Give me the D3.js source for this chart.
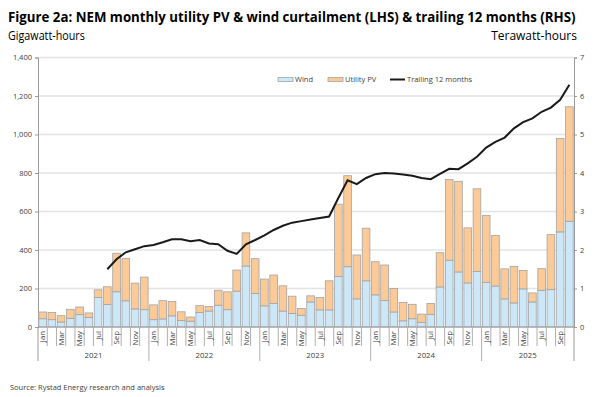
<!DOCTYPE html>
<html>

<head>
    <script src="https://cdnjs.cloudflare.com/ajax/libs/d3/7.8.5/d3.min.js"></script>
    <style>
        body {
            margin: 0;
            background: #fff;
        }

        text {
            font-family: 'Open Sans', 'Noto Sans', sans-serif;
            fill: #404040;
        }

        .title {
            font-weight: bold;
            fill: #000;
        }
    </style>
</head>

<body>
    <script>
        // months Jan 2021 .. Oct 2025
        const years = ['2021', '2022', '2023', '2024', '2025']
        const monthNames = ['Jan', 'Feb', 'Mar', 'Apr', 'May', 'Jun', 'Jul', 'Aug', 'Sep', 'Oct', 'Nov', 'Dec']
        const leftTicks = [0, 200, 400, 600, 800, 1000, 1200, 1400]
        const rightTicks = [0, 1, 2, 3, 4, 5, 6, 7]

        // GWh
        const wind = [
            43, 38, 26, 45, 64, 50, 153, 117, 183, 136, 94, 90,
            38, 42, 58, 33, 30, 75, 83, 113, 90, 186, 317, 174,
            110, 122, 83, 70, 61, 130, 89, 89, 263, 313, 146, 240,
            167, 137, 78, 32, 43, 24, 66, 208, 347, 286, 229, 289,
            231, 213, 146, 125, 198, 130, 191, 194, 494, 549
        ]
        const utilityPV = [
            35, 37, 33, 47, 40, 23, 40, 92, 200, 221, 134, 169,
            77, 95, 74, 46, 22, 36, 23, 78, 93, 110, 172, 181,
            139, 148, 131, 90, 35, 32, 64, 151, 375, 473, 228, 273,
            172, 185, 122, 95, 75, 43, 56, 178, 419, 471, 286, 429,
            348, 262, 156, 190, 95, 47, 112, 286, 485, 595
        ]
        // TWh
        const trailing = [
            null, null, null, null, null, null, null, 1.50, 1.76, 1.94, 2.02, 2.10,
            2.13, 2.20, 2.28, 2.28, 2.23, 2.26, 2.17, 2.15, 1.98, 1.90, 2.15, 2.26,
            2.38, 2.52, 2.63, 2.71, 2.75, 2.79, 2.83, 2.87, 3.35, 3.81, 3.71, 3.87,
            3.97, 4.00, 3.99, 3.96, 3.93, 3.87, 3.84, 3.98, 4.11, 4.10, 4.25, 4.42,
            4.66, 4.81, 4.92, 5.16, 5.32, 5.42, 5.59, 5.70, 5.90, 6.29
        ]

        const w = 600;
        const h = 397;

        let data = wind.map((d, i) => ({
            key: years[Math.floor(i / 12)] + '-' + i,
            month: monthNames[i % 12],
            year: years[Math.floor(i / 12)],
            wind: d,
            pv: utilityPV[i],
            t12: trailing[i]
        }))

        const svg = d3.select("body")
            .append("svg")
            .attr("width", w)
            .attr("height", h);

        const pLeft = 38, pRight = 574, pTop = 57.5, pBottom = 327

        const x = d3.scaleBand()
            .domain(data.map(d => d.key))
            .range([pLeft, pRight])
            .paddingInner(0.17)
            .paddingOuter(0.085)
        const step = x.step()
        const gap = (step - x.bandwidth()) / 2

        const y = d3.scaleLinear().domain([0, 1400]).range([pBottom, pTop])
        const y2 = d3.scaleLinear().domain([0, 7]).range([pBottom, pTop])

        // squeeze a text horizontally to a given width (Calibri-like narrow look)
        function fitWidth(sel, x0, y0, width) {
            let natural = sel.node().getComputedTextLength()
            let sx = Math.min(1, width / natural)
            sel.attr("transform", `translate(${x0},${y0}) scale(${sx},1)`)
        }

        // titles
        let title = svg.append("text").attr("class", "title")
            .style("font-size", "14.5px")
            .text("Figure 2a: NEM monthly utility PV & wind curtailment (LHS) & trailing 12 months (RHS)")
        fitWidth(title, 8, 22, 568)
        let gwh = svg.append("text")
            .style("font-size", "12px").style("fill", "#000")
            .text("Gigawatt-hours")
        fitWidth(gwh, 8, 40, 77)
        svg.append("text").attr("x", 577).attr("y", 40)
            .attr("text-anchor", "end")
            .style("font-size", "12px").style("fill", "#000")
            .text("Terawatt-hours")

        // gridlines
        svg.append("g").selectAll("line")
            .data(leftTicks.slice(1))
            .enter().append("line")
            .attr("x1", pLeft).attr("x2", pRight)
            .attr("y1", d => y(d)).attr("y2", d => y(d))
            .attr("stroke", "#e3e3e3").attr("stroke-width", 1.3)

        // left axis
        const gl = svg.append("g").attr("transform", `translate(${pLeft},0)`)
            .call(d3.axisLeft(y).tickValues(leftTicks).tickSize(3).tickPadding(3).tickFormat(d3.format(",")))
        gl.select(".domain").attr("stroke", "#9a9a9a")
        gl.selectAll(".tick line").attr("stroke", "#9a9a9a")
        gl.selectAll("text").style("font-size", "7.5px").style("fill", "#404040").style("font-family", "'Open Sans', sans-serif")

        // right axis
        const gr = svg.append("g").attr("transform", `translate(${pRight},0)`)
            .call(d3.axisRight(y2).tickValues(rightTicks).tickSize(3).tickPadding(3).tickFormat(d3.format("d")))
        gr.select(".domain").attr("stroke", "#9a9a9a")
        gr.selectAll(".tick line").attr("stroke", "#9a9a9a")
        gr.selectAll("text").style("font-size", "7.5px").style("fill", "#404040").style("font-family", "'Open Sans', sans-serif")

        // stacked bars
        const stack = d3.stack().keys(["wind", "pv"])(data)
        const fills = ["#cbe7f8", "#fbca97"]
        svg.append("g").selectAll("g")
            .data(stack)
            .enter().append("g")
            .attr("fill", (d, i) => fills[i])
            .selectAll("rect")
            .data(d => d)
            .enter().append("rect")
            .attr("x", d => x(d.data.key))
            .attr("width", x.bandwidth())
            .attr("y", d => y(d[1]))
            .attr("height", d => y(d[0]) - y(d[1]))
            .attr("stroke", "#a3a3a3")
            .attr("stroke-width", 0.8)

        // bottom axis: month ticks, year separators
        const ax = svg.append("g")
        ax.append("line").attr("x1", pLeft).attr("x2", pRight).attr("y1", pBottom).attr("y2", pBottom)
            .attr("stroke", "#9a9a9a")
        ax.selectAll(".mtick")
            .data(data.slice(1))
            .enter().append("line")
            .attr("x1", d => x(d.key) - gap)
            .attr("x2", d => x(d.key) - gap)
            .attr("y1", pBottom)
            .attr("y2", d => d.month == 'Jan' ? 361 : 346)
            .attr("stroke", "#9a9a9a").attr("stroke-width", 0.8)
        ax.selectAll(".ysep")
            .data([pLeft, pRight])
            .enter().append("line")
            .attr("x1", d => d).attr("x2", d => d)
            .attr("y1", pBottom).attr("y2", 361)
            .attr("stroke", "#9a9a9a")

        ax.selectAll(".mlabel")
            .data(data.filter((d, i) => i % 2 == 0))
            .enter().append("text")
            .attr("transform", d => `translate(${x(d.key) + x.bandwidth() / 2 + 2.7},331) rotate(-90)`)
            .attr("text-anchor", "end")
            .style("font-size", "7.8px")
            .text(d => d.month)

        ax.selectAll(".ylabel")
            .data(years)
            .enter().append("text")
            .attr("x", (yr, i) => {
                let ks = data.filter(d => d.year == yr)
                let x0 = x(ks[0].key) - gap
                let x1 = i == years.length - 1 ? pRight : x(ks[ks.length - 1].key) + x.bandwidth() + gap
                return (x0 + x1) / 2
            })
            .attr("y", 358)
            .attr("text-anchor", "middle")
            .style("font-size", "7.8px")
            .text(d => d)

        // trailing 12 months line
        const line = d3.line()
            .defined(d => d.t12 != null)
            .x(d => x(d.key) + x.bandwidth() / 2)
            .y(d => y2(d.t12))
        svg.append("path")
            .datum(data)
            .attr("d", line)
            .attr("fill", "none")
            .attr("stroke", "#1a1a1a")
            .attr("stroke-width", 2)

        // legend
        const lg = svg.append("g")
        const items = [
            { label: "Wind", x: 278, type: "rect", color: fills[0] },
            { label: "Utility PV", x: 328, type: "rect", color: fills[1] },
            { label: "Trailing 12 months", x: 390, type: "line", color: "#1a1a1a" }
        ]
        items.forEach(it => {
            if (it.type == "rect") {
                lg.append("rect").attr("x", it.x).attr("y", 77.5).attr("width", 15).attr("height", 4)
                    .attr("fill", it.color).attr("stroke", "#a3a3a3").attr("stroke-width", 0.8)
            } else {
                lg.append("line").attr("x1", it.x).attr("x2", it.x + 15).attr("y1", 79.5).attr("y2", 79.5)
                    .attr("stroke", it.color).attr("stroke-width", 2)
            }
            lg.append("text").attr("x", it.x + 17).attr("y", 82.3)
                .style("font-size", "7.5px")
                .text(it.label)
        })

        svg.append("text").attr("x", 10).attr("y", 390)
            .style("font-size", "7.5px")
            .text("Source: Rystad Energy research and analysis")
    </script>
</body>

</html>
